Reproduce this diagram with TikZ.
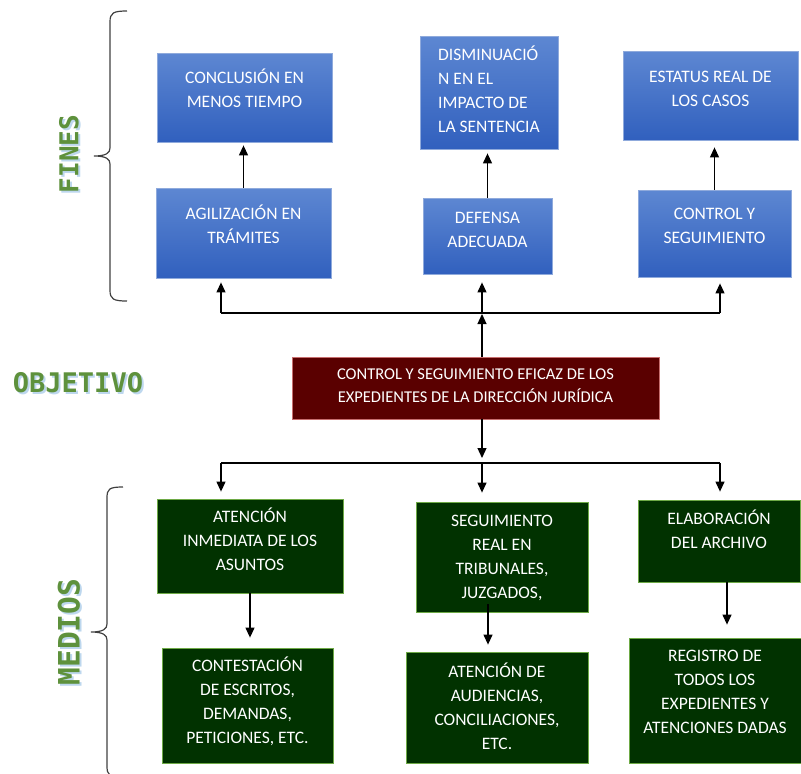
\documentclass[tikz,border=0pt]{standalone}
\usepackage{fontspec}
\setmainfont{Carlito}
\newfontfamily\labelfont{DejaVu Sans Mono}
\usetikzlibrary{arrows.meta,positioning}

\definecolor{bluetop}{RGB}{93,135,210}
\definecolor{bluebot}{RGB}{49,96,190}
\definecolor{bluedraw}{RGB}{143,170,220}
\definecolor{greenfill}{RGB}{1,50,0}
\definecolor{greendraw}{RGB}{110,170,70}
\definecolor{redfill}{RGB}{90,0,0}
\definecolor{reddraw}{RGB}{200,110,110}
\definecolor{titlegreen}{RGB}{94,145,60}
\definecolor{titleblue}{RGB}{189,215,238}

\begin{document}
\begin{tikzpicture}[x=1pt, y=-1pt, >={Triangle[width=9pt,length=10pt]}, line width=1.2pt,
    title/.style={text=titlegreen, font=\labelfont\bfseries\fontsize{#1}{#1}\selectfont},
    glow/.style={title=#1, text=titleblue}]
	    \tikzstyle{box}=[rectangle, line width=0.8pt, text=white, text depth=4pt, align=center, inner sep=2pt, font=\fontsize{17.5}{24}\selectfont]
	    \tikzstyle{fin}=[box, draw=bluedraw, top color=bluetop, bottom color=bluebot]
	    \tikzstyle{medio}=[box, draw=greendraw, fill=greenfill]
	    \tikzstyle{objbox}=[box, draw=reddraw, fill=redfill, font=\fontsize{16.5}{23}\selectfont]
	    \tikzstyle{brace}=[line width=1.2pt, draw=black!75]

	    \useasboundingbox (0,0) rectangle (801,774);

	    % fines
	    \node[fin, minimum width=175pt, minimum height=89pt, text height=23pt] (conclusion) at (244.5,97.5) {CONCLUSIÓN EN\\MENOS TIEMPO};
	    \node[fin, minimum width=175pt, minimum height=90pt, text height=25pt] (agilizacion) at (243.5,233) {AGILIZACIÓN EN\\TRÁMITES};
	    \node[fin, minimum width=138pt, minimum height=113pt, text height=84pt, align=left] (disminucion) at (489,92.5) {DISMINUACIÓ\\N EN EL\\IMPACTO DE\\LA SENTENCIA};
	    \node[fin, minimum width=129pt, minimum height=76pt, text height=27pt] (defensa) at (487.5,236) {DEFENSA\\ADECUADA};
	    \node[fin, minimum width=175pt, minimum height=89pt, text height=26pt] (estatus) at (710.5,95.5) {ESTATUS REAL DE\\LOS CASOS};
	    \node[fin, minimum width=153pt, minimum height=87pt, text height=24pt] (control) at (714.5,233.5) {CONTROL Y\\SEGUIMIENTO};

	    % objetivo
	    \node[objbox, minimum width=367pt, minimum height=62pt, text height=33pt] (objetivo) at (475.5,388) {CONTROL Y SEGUIMIENTO EFICAZ DE LOS\\EXPEDIENTES DE LA DIRECCIÓN JURÍDICA};

	    % medios
	    \node[medio, minimum width=186pt, minimum height=94pt, text height=53pt] (atencion) at (250,546) {ATENCIÓN\\INMEDIATA DE LOS\\ASUNTOS};
	    \node[medio, minimum width=171pt, minimum height=115pt, text height=80pt] (contestacion) at (247.5,705.5) {CONTESTACIÓN\\DE ESCRITOS,\\DEMANDAS,\\PETICIONES, ETC.};
	    \node[medio, minimum width=172pt, minimum height=110pt, text height=87pt] (seguimiento) at (502,557) {SEGUIMIENTO\\REAL EN\\TRIBUNALES,\\JUZGADOS,};
	    \node[medio, minimum width=182pt, minimum height=111pt, text height=88pt] (audiencias) at (497,707.5) {ATENCIÓN DE\\AUDIENCIAS,\\CONCILIACIONES,\\ETC.};
	    \node[medio, minimum width=162pt, minimum height=82pt, text height=19pt] (archivo) at (719,541) {ELABORACIÓN\\DEL ARCHIVO};
	    \node[medio, minimum width=172pt, minimum height=125pt, text height=70pt] (registro) at (715,700.5) {REGISTRO DE\\TODOS LOS\\EXPEDIENTES Y\\ATENCIONES DADAS};

	    % titles
	    \node[glow=26, rotate=90] at (71,156) {FINES};
	    \node[title=26, rotate=90] (fines) at (69,154) {FINES};
	    \node[glow=27] at (80,385) {OBJETIVO};
	    \node[title=27] (objtitle) at (78,383) {OBJETIVO};
	    \node[glow=29.5, rotate=90] at (71,634) {MEDIOS};
	    \node[title=29.5, rotate=90] (medios) at (69,632) {MEDIOS};

	    % braces
	    \draw[brace] (127,11) .. controls (113,11) and (110,13) .. (110,22) -- (110,148)
	        .. controls (110,153) and (106,156) .. (94,156) .. controls (106,156) and (110,159) .. (110,164)
	        -- (110,290) .. controls (110,299) and (113,301) .. (127,301);
	    \draw[brace] (123,487) .. controls (109,487) and (107,489) .. (107,498) -- (107,624)
	        .. controls (107,629) and (103,632) .. (91,632) .. controls (103,632) and (107,635) .. (107,640)
	        -- (107,766) .. controls (107,775) and (109,777) .. (123,777);

	    % buses
	    \coordinate (up) at (482,313);
	    \coordinate (up left) at (221,313);
	    \coordinate (up right) at (720,313);
	    \coordinate (down) at (482,463);
	    \coordinate (down left) at (221,463);
	    \coordinate (down right) at (720,463);
	    \draw (up left) -- (up right);
	    \draw (down left) -- (down right);

	    \path[->]
	    (objetivo.north -| up)	edge [shorten >=1pt]	(up)
	    (up left)	edge [shorten >=4pt]	(up left |- agilizacion.south)
	    (up)		edge [shorten >=8pt]	(up |- defensa.south)
	    (up right)	edge [shorten >=6pt]	(up right |- control.south)
	    (agilizacion.north)	edge [shorten >=3pt]	(agilizacion.north |- conclusion.south)
	    (defensa.north)		edge [shorten >=4pt]	(defensa.north |- disminucion.south)
	    (control.north)		edge [shorten >=7pt]	(control.north |- estatus.south)

	    (objetivo.south -| down)	edge [shorten >=5pt]	(down)
	    (down left)		edge [shorten >=7pt]	(down left |- atencion.north)
	    (down)			edge [shorten >=9pt]	(down |- seguimiento.north)
	    (down right)	edge [shorten >=8pt]	(down right |- archivo.north)
	    (atencion.south)	edge [shorten >=10pt]	(atencion.south |- contestacion.north)
	    ([xshift=-14pt]seguimiento.south)	edge [shorten <=-8pt, shorten >=7pt]	([xshift=-14pt]seguimiento.south |- audiencias.north)
	    ([xshift=8pt]archivo.south)	edge [shorten >=13pt]	([xshift=8pt]archivo.south |- registro.north)
	    ;
\end{tikzpicture}
\end{document}
